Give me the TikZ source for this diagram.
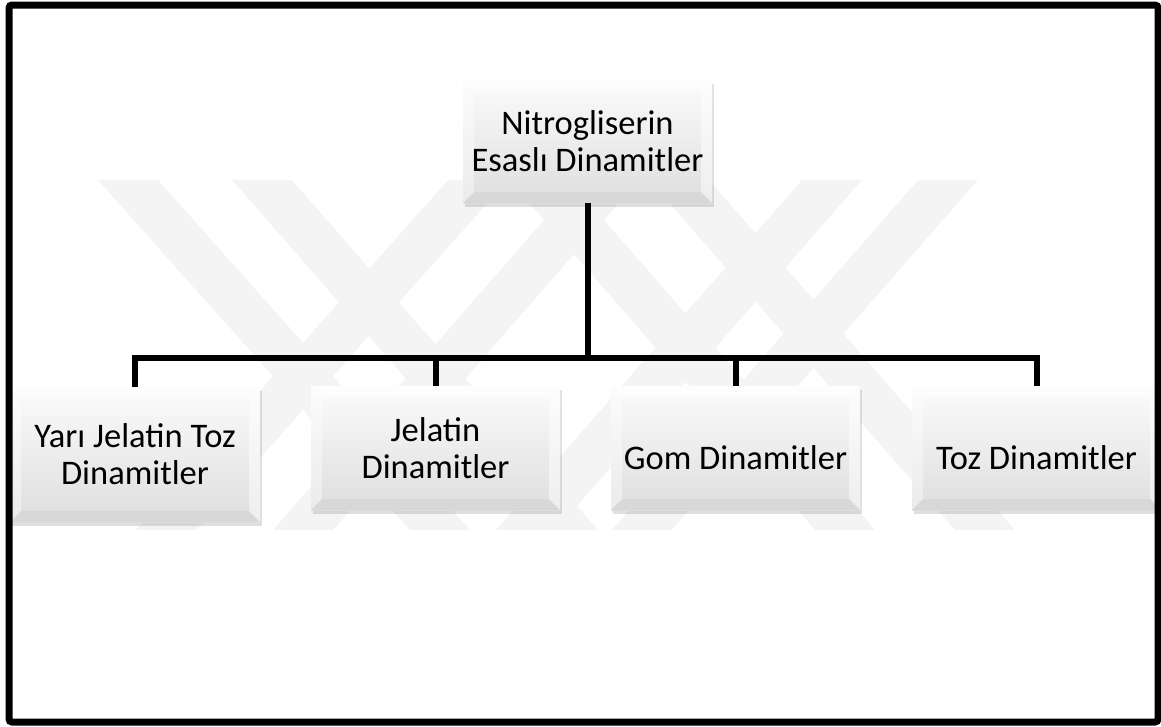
\documentclass[tikz,border=0pt]{standalone}
\usepackage{fontspec}
\setmainfont{Carlito}
\usetikzlibrary{shadows,calc}
\definecolor{wmgray}{RGB}{244,244,244}
\tikzset{
  kutu/.style={rectangle,minimum width=249pt,minimum height=124pt,align=center,
    top color=gray!3,bottom color=gray!26,
    drop shadow={shadow xshift=2pt,shadow yshift=-4pt,opacity=.25},
    font=\fontsize{34.5}{37}\selectfont,
    path picture={
      \coordinate (pnw) at (path picture bounding box.north west);
      \coordinate (pse) at (path picture bounding box.south east);
      \fill[white,opacity=.6] (pnw) -- (pnw-|pse) -- ($(pnw-|pse)+(-11pt,-11pt)$) -- ($(pnw)+(11pt,-11pt)$) -- cycle; %上
      \fill[white,opacity=.4] (pnw) -- ($(pnw)+(11pt,-11pt)$) -- ($(pnw|-pse)+(11pt,11pt)$) -- (pnw|-pse) -- cycle; %左
      \fill[white,opacity=.5] (pnw-|pse) -- (pse) -- ($(pse)+(-11pt,11pt)$) -- ($(pnw-|pse)+(-11pt,-11pt)$) -- cycle; %右
      \fill[black,opacity=.03] (pnw|-pse) -- (pse) -- ($(pse)+(-11pt,11pt)$) -- ($(pnw|-pse)+(11pt,11pt)$) -- cycle; %下
    }},
  bag/.style={line width=6pt}
}
\begin{document}
\begin{tikzpicture}[x=1pt,y=-1pt]
  \useasboundingbox (0,0) rectangle (1161,726);
  \foreach \a/\b in {128/440,262/568,539/845,679/985,478/166,609/303,832/526,948/642}
    \fill[wmgray] (\a-30,180) -- (\a+30,180) -- (\b+30,530) -- (\b-30,530) -- cycle; %透かし
  \node[kutu,minimum height=123pt] (ana) at (587.5,141.5) {Nitrogliserin\\Esaslı Dinamitler};
  \node[kutu,minimum width=250pt,minimum height=135pt] (yari) at (135,454.5) {Yarı Jelatin Toz\\Dinamitler};
  \node[kutu] (jel) at (435.5,448) {Jelatin\\Dinamitler};
  \node[kutu,text height=44pt] (gom) at (735.5,448) {Gom Dinamitler};
  \node[kutu,text height=44pt] (toz) at (1036.5,448) {Toz Dinamitler};
  \foreach \n in {yari,jel,gom,toz}
    \draw[bag] (ana.south) -- ++(0,155) -| (\n.north);
  \draw[line width=7pt,rounded corners=3pt] (9,5) rectangle (1158,722); %外枠
\end{tikzpicture}
\end{document}
